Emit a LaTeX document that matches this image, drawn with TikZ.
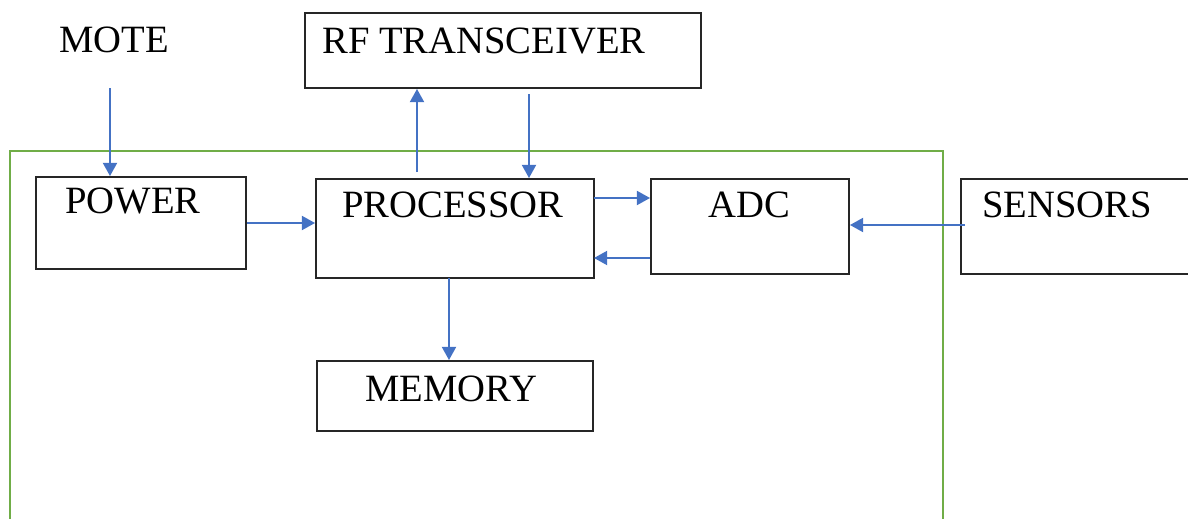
\documentclass[tikz,border=0pt]{standalone}
\usepackage{fontspec}
\setmainfont{Liberation Serif}
\usetikzlibrary{arrows.meta,fit}
\definecolor{arrblue}{HTML}{4472C4}
\definecolor{frgreen}{HTML}{70AD47}
\tikzset{
  box/.style={draw=black!85, line width=1.1pt, inner sep=0pt, fit={#1}},
  lbl/.style={anchor=base west, inner sep=0pt, font=\fontsize{22}{26}\selectfont},
  arr/.style={draw=arrblue, line width=1.1pt, -{Triangle[length=7.5pt,width=8pt]}},
}
\begin{document}
\begin{tikzpicture}[x=0.02cm,y=-0.02cm]
\useasboundingbox (0,0) rectangle (1188,518);
% green frame
\draw[frgreen, line width=0.8pt] (10,530) -- (10,151) -- (943,151) -- (943,530);
% boxes
\node[box={(305,13)(701,88)}] (rf) {};
\node[box={(36,177)(246,269)}] (power) {};
\node[box={(316,179)(594,278)}] (proc) {};
\node[box={(651,179)(849,274)}] (adc) {};
\node[box={(961,179)(1220,274)}] (sens) {};
\node[box={(317,361)(593,431)}] (mem) {};
% labels
\node[lbl] (tmote) at (59,52) {MOTE};
\node[lbl] (trf) at (322,53) {RF TRANSCEIVER};
\node[lbl] (tpower) at (65,213) {POWER};
\node[lbl] (tproc) at (342,217) {PROCESSOR};
\node[lbl] (tadc) at (708,217) {ADC};
\node[lbl] (tsens) at (982,217) {SENSORS};
\node[lbl] (tmem) at (365,401) {MEMORY};
% connector anchors
\coordinate (motes) at (110,88);
\coordinate (pu) at (417,172);
\coordinate (rd) at (529,94);
\coordinate (pa1) at (594,198);
\coordinate (pa2) at (594,258);
\coordinate (ps) at (965,225);
\coordinate (pm) at (449,278);
% arrows
\draw[arr] (motes) -- (motes |- power.north);
\draw[arr] (power.east |- 0,223) -- (proc.west |- 0,223);
\draw[arr] (pu) -- (pu |- rf.south);
\draw[arr] (rd) -- (rd |- proc.north);
\draw[arr] (pa1) -- (adc.west |- pa1);
\draw[arr] (adc.west |- pa2) -- (pa2);
\draw[arr] (ps) -- (adc.east |- ps);
\draw[arr] (pm) -- (pm |- mem.north);
\end{tikzpicture}
\end{document}
